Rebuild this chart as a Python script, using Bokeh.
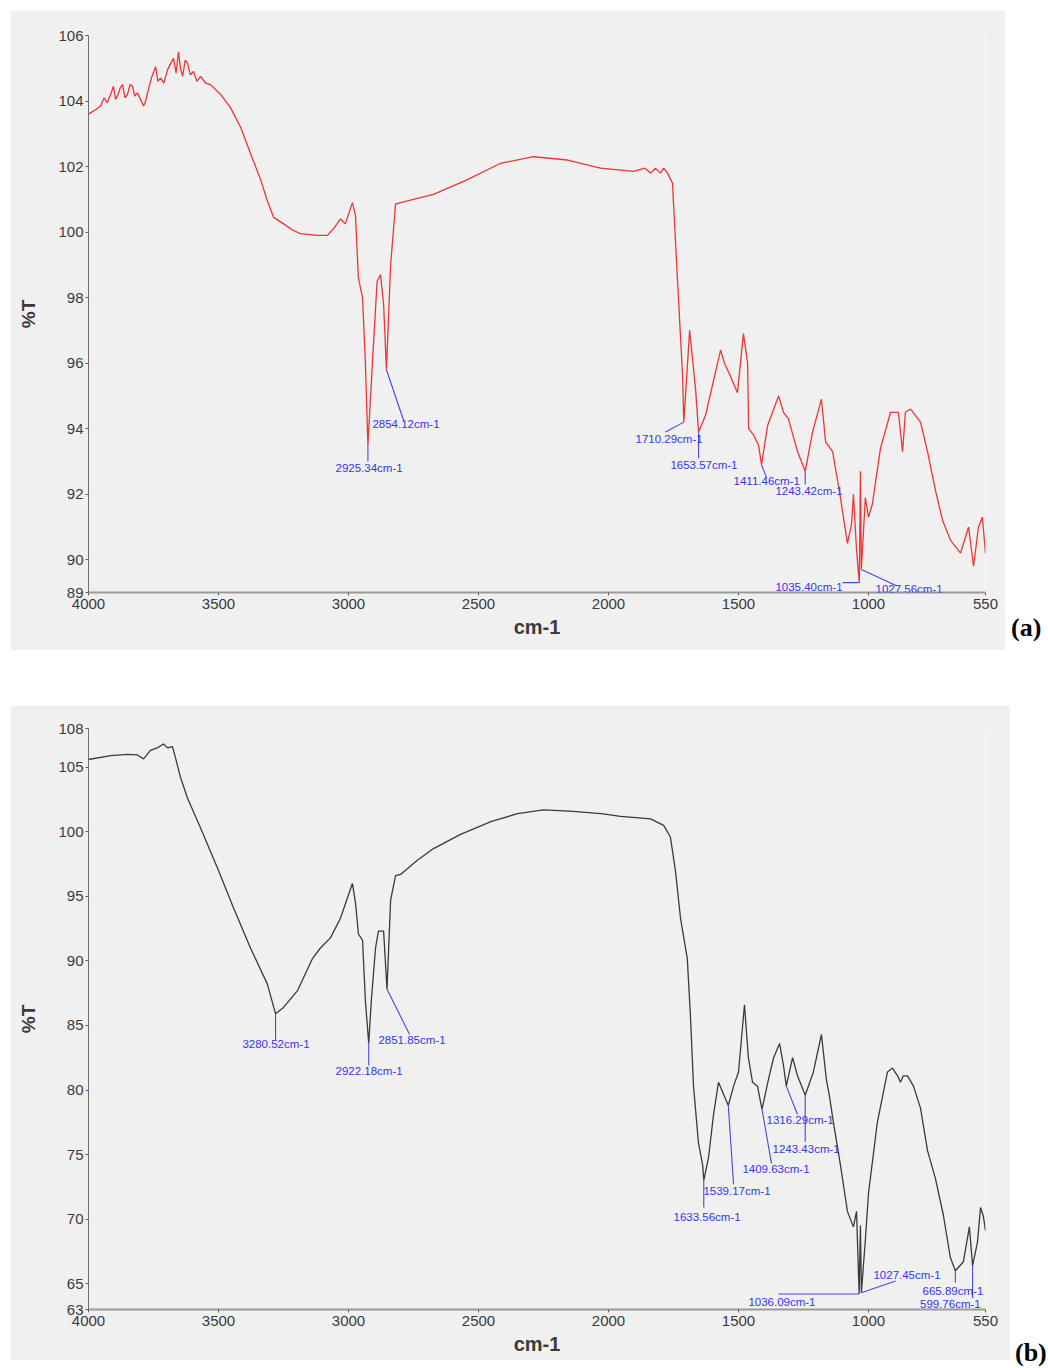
from bokeh.plotting import figure
from bokeh.models import Range1d, FixedTicker, Label, Div
from bokeh.layouts import column, row
from bokeh.embed import file_html
from bokeh.resources import INLINE

# ---- shared axis ticks ----
x_ticks = [4000, 3500, 3000, 2500, 2000, 1500, 1000, 550]
ticks_a = [89, 90, 92, 94, 96, 98, 100, 102, 104, 106]
ticks_b = [63, 65, 70, 75, 80, 85, 90, 95, 100, 105, 108]

# ---- spectrum (a) ----
wn_a = [4000, 3970, 3954, 3940, 3928, 3915, 3904, 3896, 3889, 3878,
        3869, 3860, 3850, 3840, 3831, 3822, 3812, 3800, 3788, 3780,
        3773, 3758, 3742, 3733, 3723, 3710, 3696, 3684, 3673, 3663,
        3654, 3646, 3638, 3628, 3619, 3608, 3596, 3583, 3569, 3550,
        3531, 3492, 3454, 3415, 3377, 3338, 3312, 3288, 3250, 3212,
        3185, 3119, 3081, 3058, 3031, 3012, 2985, 2973, 2962, 2946,
        2935, 2925.34, 2908, 2890, 2877, 2865, 2854.12, 2838, 2819, 2800,
        2673, 2542, 2415, 2288, 2158, 2031, 1904, 1860, 1838, 1820,
        1800, 1788, 1773, 1754, 1735, 1715, 1710.29, 1688, 1665, 1653.57,
        1627, 1569, 1554, 1531, 1504, 1481, 1465, 1461, 1442, 1423,
        1411.46, 1388, 1346, 1327, 1308, 1273, 1243.42, 1215, 1181, 1165,
        1138, 1108, 1081, 1065, 1058, 1046, 1035.40, 1031, 1027.56, 1012,
        1000, 985, 954, 915, 885, 869, 858, 838, 800, 773,
        742, 715, 685, 646, 615, 596, 577, 562, 550]
t_a = [103.6, 103.75, 103.85, 104.1, 103.95, 104.2, 104.45, 104.05, 104.15, 104.4,
       104.5, 104.1, 104.2, 104.5, 104.45, 104.15, 104.25, 104.05, 103.85, 104.0,
       104.25, 104.7, 105.05, 104.6, 104.7, 104.55, 104.95, 105.15, 105.3, 104.85,
       105.5, 105.0, 104.75, 105.25, 105.15, 104.8, 104.9, 104.6, 104.75, 104.55,
       104.5, 104.2, 103.8, 103.2, 102.4, 101.6, 100.95, 100.45, 100.25, 100.05,
       99.95, 99.9, 99.9, 100.1, 100.4, 100.25, 100.9, 100.5, 98.6, 98.0,
       96.0, 93.5, 96.0, 98.5, 98.7, 97.8, 95.8, 99.0, 100.85, 100.9,
       101.15, 101.6, 102.1, 102.3, 102.2, 101.95, 101.85, 101.95, 101.8, 101.95,
       101.8, 101.95, 101.8, 101.5, 98.6, 95.6, 94.2, 97.0, 95.2, 93.9,
       94.4, 96.4, 96.0, 95.6, 95.1, 96.9, 96.0, 94.0, 93.8, 93.5,
       92.9, 94.1, 95.0, 94.5, 94.3, 93.3, 92.7, 93.9, 94.9, 93.6,
       93.3, 91.9, 90.5, 91.1, 92.0, 90.3, 89.3, 92.7, 89.7, 91.9,
       91.3, 91.7, 93.4, 94.5, 94.5, 93.3, 94.5, 94.6, 94.2, 93.3,
       92.1, 91.2, 90.6, 90.2, 91.0, 89.8, 91.0, 91.3, 90.2]
peaks_a = [2925.34, 2854.12, 1710.29, 1653.57, 1411.46, 1243.42, 1035.40, 1027.56]
# where each peak label sits (left edge, middle) and where its leader line ends
lab_x_a = [3050, 2908, 1896, 1762, 1519, 1358, 1358, 973]
lab_y_a = [92.8, 94.15, 93.7, 92.9, 92.4, 92.1, 89.18, 89.1]
lead_x_a = [2925.34, 2788, 1781, 1653.57, 1392, 1243.42, 1100, 890]
lead_y_a = [93.0, 94.25, 93.9, 93.1, 92.5, 92.3, 89.3, 89.2]

# ---- spectrum (b) ----
wn_b = [4000, 3915, 3850, 3812, 3788, 3762, 3735, 3712, 3696, 3677,
        3665, 3646, 3619, 3569, 3504, 3442, 3377, 3312, 3280.52, 3250,
        3196, 3138, 3108, 3069, 3031, 2985, 2973, 2962, 2946, 2935,
        2922.18, 2912, 2896, 2885, 2865, 2851.85, 2838, 2819, 2800, 2735,
        2673, 2569, 2450, 2350, 2250, 2150, 2028, 1954, 1838, 1788,
        1762, 1742, 1723, 1697, 1685, 1673, 1654, 1638, 1633.56, 1615,
        1596, 1577, 1558, 1539.17, 1519, 1500, 1477, 1462, 1446, 1427,
        1409.63, 1385, 1365, 1342, 1327, 1316.29, 1292, 1273, 1243.43, 1212,
        1181, 1162, 1150, 1135, 1108, 1081, 1058, 1046, 1036.09, 1031,
        1027.45, 1012, 1000, 966, 927, 908, 888, 877, 866, 850,
        827, 800, 773, 742, 712, 685, 665.89, 635, 612, 599.76,
        581, 569, 558, 550]
t_b = [105.6, 105.9, 106.0, 105.95, 105.65, 106.3, 106.5, 106.8, 106.5, 106.6,
       105.7, 104.2, 102.6, 100.3, 97.2, 94.1, 91.0, 88.2, 85.9, 86.4,
       87.7, 90.2, 91.0, 91.8, 93.3, 96.0, 94.5, 92.1, 91.6, 86.9,
       83.6, 87.0, 91.0, 92.3, 92.3, 87.8, 94.7, 96.6, 96.7, 97.8,
       98.7, 99.8, 100.8, 101.4, 101.7, 101.6, 101.4, 101.2, 101.0, 100.5,
       99.6, 96.9, 93.3, 90.2, 85.8, 80.3, 75.9, 74.2, 73.0, 74.8,
       78.1, 80.6, 79.7, 78.8, 80.3, 81.4, 86.6, 82.5, 80.6, 80.3,
       78.5, 80.8, 82.5, 83.6, 81.9, 80.3, 82.5, 81.1, 79.6, 81.4,
       84.3, 80.8, 79.5, 77.5, 74.2, 70.6, 69.4, 70.6, 64.2, 69.5,
       64.3, 68.4, 72.0, 77.5, 81.4, 81.7, 81.1, 80.6, 81.1, 81.1,
       80.3, 78.6, 75.3, 73.1, 70.3, 67.0, 66.0, 66.7, 69.4, 66.4,
       68.2, 70.9, 70.2, 69.1]
peaks_b = [3280.52, 2922.18, 2851.85, 1633.56, 1539.17, 1409.63,
           1316.29, 1243.43, 1036.09, 1027.45, 665.89, 599.76]
lab_x_b = [3408, 3050, 2885, 1750, 1635, 1485, 1392, 1369, 1462, 981, 792, 802]
lab_y_b = [83.6, 81.5, 83.9, 70.2, 72.2, 73.9, 77.7, 75.4, 63.6, 65.7, 64.45, 63.45]
lead_x_b = [3280.52, 2922.18, 2765, 1633.56, 1519, 1373, 1273, 1243.43, 1346, 896, 665.89, 599.76]
lead_y_b = [83.9, 81.9, 84.3, 70.9, 72.7, 74.3, 78.1, 76.0, 64.2, 65.2, 65.1, 63.9]

PANEL_BG = "#f0f0f0"
AXIS_TEXT = "#3a3a3a"
PEAK_BLUE = "#3434ee"
LEAD_BLUE = "#4848d8"
SANS = "Liberation Sans"


def spectrum_panel(wn, t, y_lo, y_hi, y_ticks, peaks, lab_x, lab_y, lead_x, lead_y,
                   color, frame_h, top, bottom, right, margin):
    p = figure(frame_width=897, frame_height=frame_h,
               x_range=Range1d(4000, 550), y_range=Range1d(y_lo, y_hi),
               output_backend="svg", toolbar_location=None,
               min_border_left=78, min_border_right=right,
               min_border_top=top, min_border_bottom=bottom,
               background_fill_color=PANEL_BG, border_fill_color=PANEL_BG,
               outline_line_color=None, margin=margin)
    p.xgrid.visible = False
    p.ygrid.visible = False

    p.xaxis.ticker = FixedTicker(ticks=x_ticks)
    p.yaxis.ticker = FixedTicker(ticks=y_ticks)
    for ax in (p.xaxis[0], p.yaxis[0]):
        ax.minor_tick_line_color = None
        ax.major_tick_in = 0
        ax.major_tick_out = 3
        ax.major_tick_line_color = "#606060"
        ax.major_label_text_font = SANS
        ax.major_label_text_font_size = "15px"
        ax.major_label_text_color = AXIS_TEXT
        ax.axis_label_text_color = AXIS_TEXT
        ax.axis_label_text_font = SANS
        ax.axis_label_text_font_style = "bold"
    p.yaxis.axis_line_color = "#707070"
    p.yaxis.axis_line_width = 1
    p.yaxis.major_label_standoff = 2
    p.yaxis.axis_label = "%T"
    p.yaxis.axis_label_text_font_size = "19px"
    p.yaxis.axis_label_standoff = 16
    p.xaxis.axis_line_color = "#9a9a9a"
    p.xaxis.axis_line_width = 2
    p.xaxis.major_label_standoff = 3
    p.xaxis.axis_label = "cm-1"
    p.xaxis.axis_label_text_font_size = "20px"
    p.xaxis.axis_label_standoff = 4

    p.line(wn, t, line_color=color, line_width=1.3)

    peak_t = [t[wn.index(w)] for w in peaks]
    p.segment(x0=peaks, y0=peak_t, x1=lead_x, y1=lead_y,
              line_color=LEAD_BLUE, line_width=1.1)
    for w, lx, ly in zip(peaks, lab_x, lab_y):
        p.add_layout(Label(x=lx, y=ly, text=f"{w:.2f}cm-1", level="overlay",
                           text_font=SANS, text_font_size="11.5px",
                           text_color=PEAK_BLUE, text_baseline="middle",
                           text_align="left"))
    return p


p_a = spectrum_panel(wn_a, t_a, 89, 106, ticks_a, peaks_a,
                     lab_x_a, lab_y_a, lead_x_a, lead_y_a,
                     "#ee3535", 557, 25, 58, 20, (10, 0, 0, 10))
p_b = spectrum_panel(wn_b, t_b, 63, 108, ticks_b, peaks_b,
                     lab_x_b, lab_y_b, lead_x_b, lead_y_b,
                     "#3a3a3a", 581, 23, 51, 25, (55, 0, 0, 10))

tag_style = {"font-family": "Liberation Serif", "font-size": "26px",
             "font-weight": "bold", "color": "#000000", "line-height": "26px"}
tag_a = Div(text="(a)", width=30, height=26, margin=(615, 0, 0, 6), styles=tag_style)
tag_b = Div(text="(b)", width=28, height=26, margin=(690, 0, 0, 5), styles=tag_style)

page = column(row(p_a, tag_a), row(p_b, tag_b))

with open("out.html", "w") as f:
    f.write(file_html(page, INLINE))
